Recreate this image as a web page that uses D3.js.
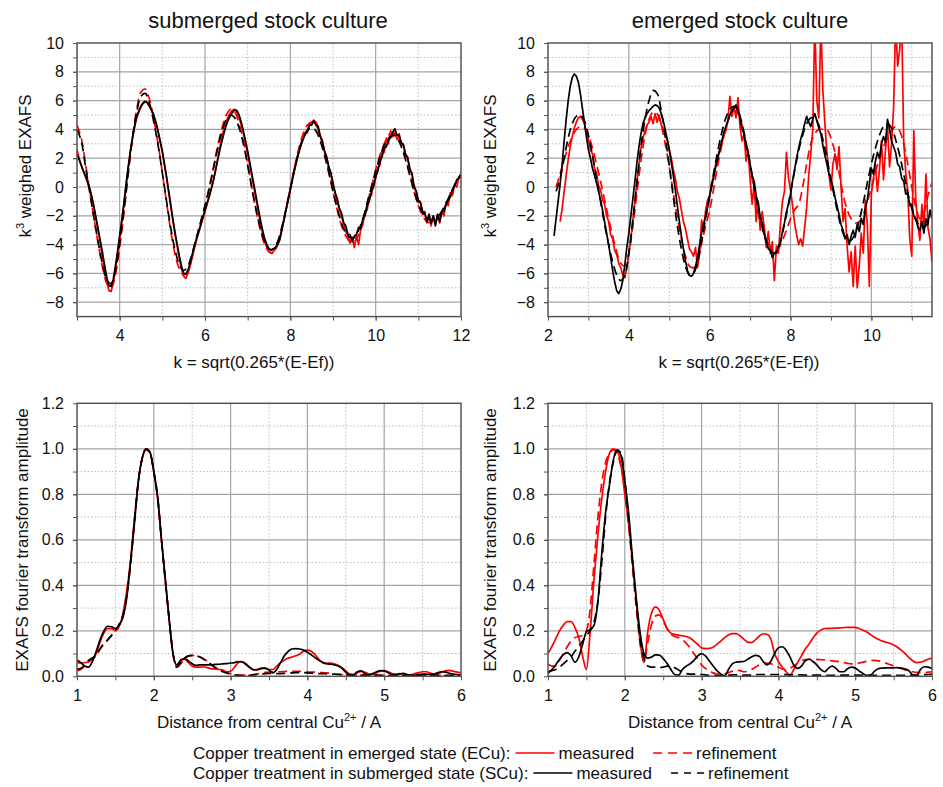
<!DOCTYPE html>
<html>
<head>
<meta charset="utf-8">
<script src="https://cdn.jsdelivr.net/npm/d3@7"></script>
<style>
  body { margin: 0; background: #fff; }
  svg { display: block; font-family: "Liberation Sans", Arial, sans-serif; }
</style>
</head>
<body>
<svg id="fig" width="943" height="787"></svg>
<script>
// ---------------------------------------------------------------
// k-space EXAFS (k^3 weighted), sampled on regular k grids
// ---------------------------------------------------------------
const kStepMeasured = 0.05;
const kStepRefined = 0.1;

// submerged stock culture, k = 3.00 ... 12.00
const subKStart = 3.0;
const subScuMeasured = [
  2.3, 1.9, 1.5, 1.1, 0.75, 0.35, -0.1, -0.7, -1.4, -2.2, -3.0, -3.8, -4.6, -5.5, -6.3, -6.85, -6.9, -6.4, -5.5, -4.5,
  -3.4, -2.3, -1.1, 0.2, 1.4, 2.5, 3.4, 4.2, 4.9, 5.3, 5.65, 5.85, 5.95, 5.85, 5.6, 5.3, 5.0, 4.5, 3.9, 3.2,
  2.5, 1.6, 0.7, -0.3, -1.3, -2.3, -3.2, -4.0, -4.8, -5.5, -6.0, -6.05, -5.8, -5.3, -4.7, -4.1, -3.6, -3.1, -2.6, -2.1,
  -1.6, -1.1, -0.6, -0.1, 0.5, 1.2, 1.9, 2.6, 3.2, 3.8, 4.3, 4.7, 5.0, 5.2, 5.35, 5.3, 5.0, 4.5, 3.9, 3.2,
  2.5, 1.7, 0.9, 0.1, -0.7, -1.5, -2.3, -3.0, -3.6, -4.0, -4.3, -4.4, -4.3, -4.2, -4.0, -3.7, -3.0, -2.3, -1.6, -0.9,
  -0.2, 0.5, 1.2, 1.8, 2.4, 2.9, 3.3, 3.7, 3.8, 4.3, 4.3, 4.6, 4.3, 4.2, 3.5, 3.2, 2.5, 2.1, 1.4, 1.0,
  0.3, -0.4, -0.8, -1.5, -1.8, -2.5, -2.7, -3.3, -3.3, -3.8, -3.4, -3.3, -2.8, -2.9, -2.2, -2.0, -1.3, -1.0, -0.3, 0.0,
  0.7, 1.1, 1.8, 2.1, 2.7, 2.8, 3.3, 3.4, 3.8, 4.05, 3.6, 3.6, 3.1, 2.9, 2.3, 2.0, 1.3, 0.9, 0.1, -0.3,
  -0.9, -1.1, -1.7, -1.8, -2.4, -1.9, -2.5, -2.0, -2.7, -1.9, -2.4, -1.7, -1.7, -1.2, -0.9, -0.7, -0.2, 0.1, 0.5, 0.6,
  0.9
];
const subEcuMeasured = [
  2.6, 2.0, 1.5, 1.1, 0.7, 0.3, -0.2, -0.8, -1.5, -2.3, -3.1, -4.0, -4.9, -5.8, -6.6, -7.2, -7.25, -6.7, -5.7, -4.6,
  -3.5, -2.4, -1.2, 0.1, 1.3, 2.4, 3.4, 4.2, 4.8, 5.2, 5.55, 5.8, 5.9, 5.85, 5.6, 5.3, 4.9, 4.4, 3.8, 3.1,
  2.4, 1.5, 0.6, -0.4, -1.4, -2.4, -3.3, -4.2, -5.0, -5.7, -6.2, -6.35, -6.0, -5.5, -4.9, -4.3, -3.7, -3.2, -2.7, -2.2,
  -1.7, -1.2, -0.7, -0.1, 0.5, 1.2, 2.0, 2.8, 3.5, 4.1, 4.6, 4.9, 5.2, 5.35, 5.4, 5.2, 4.8, 4.3, 3.7, 3.0,
  2.3, 1.5, 0.7, -0.1, -0.9, -1.7, -2.5, -3.2, -3.8, -4.2, -4.5, -4.6, -4.5, -4.3, -4.0, -3.6, -2.9, -2.2, -1.5, -0.8,
  -0.1, 0.6, 1.3, 1.9, 2.5, 3.0, 3.4, 3.8, 4.0, 4.3, 4.5, 4.65, 4.5, 4.2, 3.6, 3.2, 2.5, 2.1, 1.4, 0.9,
  0.1, -0.4, -1.1, -1.5, -2.1, -2.5, -3.1, -3.4, -3.9, -3.5, -4.2, -3.4, -4.0, -2.9, -2.6, -1.8, -1.6, -0.7, -0.6, 0.3,
  0.6, 1.4, 1.5, 2.5, 2.4, 3.4, 3.0, 3.9, 3.5, 3.8, 3.3, 3.7, 2.9, 3.0, 2.2, 2.1, 1.1, 1.0, -0.1, -0.3,
  -1.1, -1.0, -1.9, -1.7, -2.5, -1.9, -2.7, -2.0, -2.6, -1.9, -2.5, -1.7, -2.0, -1.1, -1.3, -0.4, -0.6, 0.2, 0.0, 0.7,
  0.6
];
const subScuRefined = [
  4.0, 3.2, 1.4, -0.4, -2.2, -3.9, -5.4, -6.5, -6.7, -5.8,
  -3.9, -1.6, 1.0, 3.4, 5.2, 6.3, 6.5, 5.8, 4.5, 2.9,
  1.0, -1.0, -2.9, -4.4, -5.4, -5.8, -5.5, -4.6, -3.5, -2.4,
  -1.3, -0.1, 1.3, 2.7, 3.9, 4.7, 5.0, 4.8, 4.1, 3.0,
  1.5, -0.1, -1.6, -2.9, -3.8, -4.3, -4.3, -3.8, -2.8, -1.5,
  -0.1, 1.3, 2.5, 3.4, 3.9, 4.1, 3.9, 3.2, 2.2, 1.0,
  -0.3, -1.5, -2.5, -3.2, -3.5, -3.5, -3.0, -2.2, -1.1, 0.0,
  1.1, 2.1, 2.9, 3.4, 3.6, 3.4, 2.8, 1.9, 0.8, -0.3,
  -1.2, -1.8, -2.2, -2.3, -2.2, -1.9, -1.4, -0.8, -0.2, 0.4,
  0.9
];
const subEcuRefined = [
  4.3, 3.4, 1.6, -0.3, -2.2, -4.0, -5.6, -6.7, -7.0, -6.1,
  -4.2, -1.8, 0.9, 3.4, 5.4, 6.6, 6.8, 6.1, 4.7, 3.0,
  1.0, -1.1, -3.1, -4.7, -5.7, -6.1, -5.8, -4.8, -3.6, -2.5,
  -1.3, 0.0, 1.4, 2.9, 4.1, 5.0, 5.4, 5.2, 4.4, 3.2,
  1.6, -0.1, -1.7, -3.0, -4.0, -4.5, -4.6, -4.0, -3.0, -1.6,
  -0.1, 1.4, 2.7, 3.7, 4.3, 4.5, 4.3, 3.5, 2.4, 1.1,
  -0.3, -1.6, -2.7, -3.4, -3.8, -3.8, -3.3, -2.4, -1.2, 0.0,
  1.2, 2.2, 3.0, 3.6, 3.8, 3.6, 3.0, 2.0, 0.9, -0.3,
  -1.3, -2.0, -2.4, -2.5, -2.4, -2.0, -1.5, -0.9, -0.2, 0.4,
  0.8
];

// emerged stock culture
const emeScuKStart = 2.15;   // k = 2.15 ... 11.50
const emeScuMeasured = [
  -3.4, -2.2, -1.0, 0.2, 1.6, 3.2, 4.7, 6.0, 7.0, 7.6, 7.85, 7.7, 7.3, 6.5, 5.5, 4.5, 3.5,
  2.6, 2.0, 1.3, 0.8, 0.3, -0.3, -0.9, -1.6, -2.4, -3.2, -4.0, -4.9, -5.8, -6.6, -7.2, -7.4, -7.1, -6.5, -5.4, -4.2,
  -3.2, -2.0, -0.8, 0.4, 1.7, 2.8, 3.7, 4.4, 4.8, 5.1, 5.3, 5.45, 5.6, 5.7, 5.65, 5.5, 5.1, 4.6, 4.0, 3.3,
  2.6, 1.7, 0.8, -0.2, -1.3, -2.4, -3.4, -4.3, -5.1, -5.8, -6.15, -6.2, -6.0, -5.5, -4.9, -4.0, -3.2, -2.6, -2.0, -1.4,
  -0.6, 0.0, 0.7, 1.4, 2.0, 2.6, 3.2, 3.8, 4.2, 4.6, 5.0, 5.3, 5.5, 5.7, 5.3, 4.8, 4.0, 3.7, 2.8, 2.4,
  1.6, 0.8, 0.4, -0.6, -1.1, -2.1, -2.5, -3.3, -3.7, -4.3, -4.4, -4.9, -4.6, -4.6, -4.1, -3.9, -3.1, -2.5, -1.7, -1.2,
  -0.5, 0.4, 1.2, 2.0, 2.7, 3.3, 3.8, 4.4, 4.9, 4.5, 4.2, 4.7, 5.1, 4.6, 4.1, 3.7, 2.9, 2.2, 1.6, 0.9,
  0.5, 0.0, -0.7, -1.3, -1.9, -2.6, -3.0, -3.6, -3.3, -4.0, -3.4, -3.0, -3.5, -2.6, -3.1, -2.2, -2.6, -1.5, -0.9, 0.2,
  1.3, 0.9, 1.8, 2.4, 2.0, 3.0, 3.5, 3.1, 4.7, 4.0, 3.2, 2.8, 2.4, 1.6, 1.4, 0.6, 0.4, -0.5, -0.4, -1.3,
  -1.2, -2.0, -2.2, -2.8, -3.0, -2.4, -3.2, -2.2, -2.6, -1.6, -2.2
];
const emeEcuKStart = 2.30;   // k = 2.30 ... 11.50
const emeEcuMeasured = [
  -2.4, -1.5, -0.3, 0.8, 1.9, 2.8, 3.5, 4.1, 4.5, 4.8, 4.9, 4.7, 4.4, 3.8,
  3.3, 2.6, 2.3, 1.3, 1.0, 0.1, -0.2, -0.9, -1.2, -2.0, -2.4, -3.3, -3.6, -4.4, -4.7, -5.3, -5.6, -6.1, -6.3, -5.6,
  -4.6, -3.6, -2.3, -1.0, 0.4, 1.6, 2.7, 3.4, 3.9, 4.3, 4.5, 4.9, 4.4, 5.1, 4.5, 5.0, 4.3, 4.1, 3.6, 3.3,
  2.6, 2.0, 1.2, 0.6, -0.3, -0.8, -1.6, -2.4, -2.9, -3.6, -4.3, -4.5, -4.8, -4.2, -5.6, -4.6, -2.3, -3.0, -1.6, -0.9,
  -0.6, 0.3, 0.8, 1.6, 2.1, 2.6, 3.0, 3.6, 3.9, 4.6, 6.3, 4.9, 5.6, 4.8, 6.2, 4.2, 3.2, 3.7, 1.8, 2.6,
  0.5, -1.2, 0.2, -2.4, -1.0, -3.0, -1.7, -2.8, -4.2, -3.1, -4.6, -3.8, -6.5, -4.1, -4.6, -2.6, -1.0, -0.3, 2.4, 0.6,
  -0.2, -1.3, -2.5, -3.3, -4.0, -3.6, -4.1, -2.8, -1.4, 0.8, 2.3, 4.0, 11.5, 6.0, 4.8, 11.5, 6.7, 4.4, 2.4, 0.9,
  -0.2, 1.6, 2.3, 1.2, 2.8, 0.0, -2.4, -1.5, -4.1, -5.9, -4.5, -6.9, -4.1, -7.0, -5.5, -3.2, -4.6, -0.9, -2.6, -6.9,
  -0.5, 0.6, 1.5, -0.3, 1.2, 3.2, 0.5, 2.6, 4.2, 1.4, 3.0, 5.5, 11.5, 8.4, 9.5, 11.5, 3.2, 1.0, -0.3, -3.6,
  -4.8, 3.9, -1.0, -2.6, -3.7, -1.2, -2.9, 0.9, -2.8, -3.6, -5.2
];
const emeRefinedKStart = 2.2;  // k = 2.2 ... 11.5
const emeScuRefined = [
  -0.3, 0.6, 2.0, 3.4, 4.4, 4.9, 5.0, 4.6,
  3.6, 2.2, 0.6, -1.0, -2.6, -4.0, -5.2, -6.1, -6.5, -6.1,
  -4.6, -2.3, 0.3, 2.8, 4.7, 6.0, 6.7, 6.5, 5.3, 3.5,
  1.5, -0.7, -2.7, -4.3, -5.5, -6.1, -6.0, -5.2, -3.8, -2.2,
  -0.6, 1.0, 2.5, 3.8, 4.8, 5.4, 5.6, 5.3, 4.4, 3.1,
  1.6, 0.0, -1.5, -2.8, -3.8, -4.4, -4.6, -4.2, -3.2, -1.9,
  -0.4, 1.1, 2.5, 3.6, 4.4, 4.8, 4.8, 4.3, 3.3, 2.0,
  0.5, -0.9, -2.2, -3.2, -3.7, -3.7, -3.2, -2.3, -1.1, 0.3,
  1.6, 2.7, 3.6, 4.2, 4.4, 4.1, 3.3, 2.2, 0.9, -0.4,
  -1.5, -2.3, -2.7, -2.8, -2.5, -2.0
];
const emeEcuRefined = [
  0.0, 0.9, 1.9, 2.8, 3.5, 4.0, 4.2, 4.1,
  3.6, 2.7, 1.6, 0.4, -0.9, -2.2, -3.4, -4.5, -5.3, -5.5,
  -4.6, -2.7, -0.4, 1.8, 3.6, 4.7, 5.2, 5.1, 4.3, 3.0,
  1.4, -0.4, -2.1, -3.6, -4.8, -5.5, -5.6, -5.0, -3.9, -2.7,
  -1.6, -0.1, 1.5, 2.9, 4.1, 4.9, 5.3, 5.1, 4.3, 3.0,
  1.4, -0.3, -1.8, -2.9, -3.6, -4.2, -4.5, -4.3, -3.7, -3.0,
  -2.2, -1.6, -1.2, 0.0, 1.6, 3.0, 3.7, 4.0, 4.0, 4.0,
  3.4, 2.4, 1.0, -0.5, -1.6, -2.2, -2.5, -2.4, -1.9, -1.0,
  -0.1, 1.0, 2.0, 2.8, 3.4, 3.9, 4.2, 3.9, 3.0, 1.6,
  0.0, -1.4, -2.2, -1.8, -0.6, 0.3
];

// ---------------------------------------------------------------
// Fourier transform amplitude, R = 1.00 ... 6.00 (step 0.05)
// ---------------------------------------------------------------
const rStart = 1.0;
const rStep = 0.05;

const ftSubScuMeasured = [
  0.072, 0.06, 0.045, 0.04, 0.065, 0.11, 0.16, 0.2, 0.22, 0.218, 0.21, 0.225, 0.26, 0.35, 0.51, 0.68, 0.86, 0.96, 1.0, 0.985,
  0.9, 0.79, 0.6, 0.43, 0.25, 0.1, 0.05, 0.072, 0.078, 0.068, 0.055, 0.048, 0.05, 0.05, 0.05, 0.05, 0.052, 0.053, 0.055, 0.056,
  0.058, 0.06, 0.065, 0.063, 0.052, 0.038, 0.028, 0.03, 0.035, 0.035, 0.028, 0.015, 0.03, 0.06, 0.09, 0.11, 0.12, 0.122, 0.12, 0.115,
  0.106, 0.095, 0.082, 0.07, 0.06, 0.055, 0.053, 0.05, 0.045, 0.035, 0.018, 0.007, 0.008, 0.02, 0.024, 0.012, 0.006, 0.012, 0.02, 0.025,
  0.024, 0.016, 0.008, 0.006, 0.01, 0.013, 0.008, 0.004, 0.004, 0.008, 0.01, 0.01, 0.008, 0.01, 0.016, 0.02, 0.018, 0.013, 0.01, 0.007,
  0.005
];
const ftSubEcuMeasured = [
  0.06, 0.058, 0.06, 0.063, 0.075, 0.1, 0.15, 0.19, 0.21, 0.21, 0.2, 0.22, 0.28, 0.38, 0.52, 0.7, 0.86, 0.96, 0.995, 0.985,
  0.9, 0.78, 0.6, 0.42, 0.25, 0.1, 0.05, 0.065, 0.075, 0.06, 0.045, 0.04, 0.04, 0.042, 0.038, 0.033, 0.032, 0.03, 0.027, 0.02,
  0.022, 0.04, 0.06, 0.065, 0.055, 0.04, 0.03, 0.028, 0.035, 0.037, 0.03, 0.03, 0.045, 0.06, 0.072, 0.08, 0.085, 0.09, 0.098, 0.11,
  0.115, 0.11, 0.095, 0.075, 0.062, 0.057, 0.058, 0.055, 0.048, 0.038, 0.024, 0.01, 0.006, 0.015, 0.022, 0.018, 0.01, 0.008, 0.015, 0.022,
  0.025, 0.02, 0.012, 0.01, 0.012, 0.01, 0.006, 0.007, 0.012, 0.016, 0.02, 0.02, 0.014, 0.01, 0.012, 0.018, 0.024, 0.026, 0.022, 0.018,
  0.015
];
const ftSubScuRefined = [
  0.03, 0.035, 0.05, 0.07, 0.08, 0.09, 0.12, 0.145, 0.16, 0.18, 0.2, 0.23, 0.27, 0.36, 0.5, 0.69, 0.86, 0.96, 1.0, 0.985,
  0.9, 0.79, 0.6, 0.42, 0.25, 0.1, 0.04, 0.06, 0.08, 0.09, 0.092, 0.09, 0.085, 0.075, 0.065, 0.05, 0.037, 0.028, 0.02, 0.014,
  0.01, 0.006, 0.004, 0.003, 0.003, 0.004, 0.006, 0.008, 0.01, 0.012, 0.013, 0.013, 0.012, 0.012, 0.013, 0.014, 0.015, 0.016, 0.016, 0.016,
  0.015, 0.014, 0.013, 0.012, 0.012, 0.011, 0.01, 0.009, 0.008, 0.007, 0.006, 0.005, 0.004, 0.004, 0.004, 0.005, 0.006, 0.006, 0.005, 0.004,
  0.003, 0.003, 0.004, 0.005, 0.005, 0.004, 0.003, 0.003, 0.004, 0.004, 0.003, 0.003, 0.003, 0.004, 0.004, 0.003, 0.003, 0.003, 0.003, 0.003,
  0.003
];
const ftSubEcuRefined = [
  0.025, 0.03, 0.045, 0.065, 0.08, 0.095, 0.12, 0.14, 0.16, 0.18, 0.2, 0.225, 0.27, 0.37, 0.51, 0.69, 0.86, 0.96, 0.995, 0.985,
  0.9, 0.78, 0.6, 0.42, 0.25, 0.1, 0.04, 0.055, 0.075, 0.088, 0.092, 0.09, 0.085, 0.076, 0.066, 0.052, 0.04, 0.03, 0.022, 0.016,
  0.012, 0.008, 0.006, 0.005, 0.005, 0.006, 0.008, 0.011, 0.014, 0.017, 0.019, 0.02, 0.02, 0.02, 0.021, 0.022, 0.022, 0.022, 0.022, 0.021,
  0.02, 0.019, 0.018, 0.017, 0.016, 0.015, 0.013, 0.011, 0.009, 0.007, 0.006, 0.005, 0.005, 0.005, 0.006, 0.007, 0.007, 0.006, 0.005, 0.004,
  0.004, 0.004, 0.005, 0.006, 0.006, 0.005, 0.004, 0.004, 0.005, 0.005, 0.004, 0.004, 0.004, 0.005, 0.005, 0.004, 0.004, 0.004, 0.004, 0.004,
  0.004
];
const ftEmeScuMeasured = [
  0.013, 0.03, 0.05, 0.075, 0.095, 0.104, 0.09, 0.062, 0.085, 0.14, 0.196, 0.205, 0.225, 0.33, 0.54, 0.72, 0.84, 0.95, 0.995, 0.97,
  0.86, 0.716, 0.52, 0.34, 0.19, 0.1, 0.08, 0.085, 0.094, 0.093, 0.078, 0.057, 0.03, 0.008, 0.005, 0.03, 0.045, 0.055, 0.07, 0.09,
  0.1, 0.09, 0.068, 0.045, 0.025, 0.01, 0.002, 0.03, 0.055, 0.062, 0.064, 0.065, 0.075, 0.085, 0.092, 0.088, 0.066, 0.05, 0.065, 0.1,
  0.125, 0.13, 0.115, 0.085, 0.05, 0.035, 0.045, 0.068, 0.075, 0.065, 0.05, 0.03, 0.02, 0.035, 0.045, 0.035, 0.02, 0.02, 0.033, 0.04,
  0.036, 0.024, 0.012, 0.004, 0.005, 0.022, 0.033, 0.036, 0.037, 0.037, 0.037, 0.038, 0.036, 0.032, 0.024, 0.006, 0.004, 0.03, 0.042, 0.04,
  0.035
];
const ftEmeEcuMeasured = [
  0.1, 0.13, 0.165, 0.2, 0.225, 0.24, 0.24, 0.215, 0.17, 0.09, 0.03, 0.2, 0.43, 0.62, 0.78, 0.9, 0.98, 1.0, 0.99, 0.93,
  0.8, 0.67, 0.5, 0.33, 0.15, 0.06, 0.2, 0.28, 0.305, 0.29, 0.25, 0.21, 0.19, 0.184, 0.181, 0.178, 0.175, 0.168, 0.155, 0.14,
  0.125, 0.122, 0.123, 0.128, 0.14, 0.155, 0.17, 0.182, 0.188, 0.188, 0.178, 0.163, 0.15, 0.148, 0.16, 0.176, 0.187, 0.185, 0.165, 0.1,
  0.065, 0.04, 0.02, 0.003, 0.03, 0.06, 0.09, 0.12, 0.142, 0.168, 0.19, 0.203, 0.21, 0.211, 0.211, 0.212, 0.213, 0.214, 0.215, 0.215,
  0.215, 0.21, 0.203, 0.195, 0.183, 0.172, 0.163, 0.155, 0.15, 0.145, 0.138, 0.128, 0.115, 0.1, 0.082, 0.068, 0.06, 0.062, 0.068, 0.075,
  0.08
];
const ftEmeScuRefined = [
  0.02, 0.025, 0.03, 0.04, 0.055, 0.07, 0.085, 0.11, 0.13, 0.155, 0.18, 0.2, 0.24, 0.33, 0.5, 0.7, 0.85, 0.94, 0.99, 0.985,
  0.86, 0.69, 0.5, 0.32, 0.16, 0.08, 0.045, 0.04, 0.04, 0.038, 0.04, 0.045, 0.045, 0.038, 0.028, 0.018, 0.012, 0.01, 0.01, 0.01,
  0.008, 0.006, 0.004, 0.003, 0.003, 0.003, 0.004, 0.005, 0.006, 0.006, 0.006, 0.005, 0.005, 0.006, 0.007, 0.008, 0.008, 0.008, 0.008, 0.008,
  0.008, 0.008, 0.007, 0.007, 0.006, 0.006, 0.006, 0.005, 0.005, 0.005, 0.005, 0.005, 0.004, 0.004, 0.004, 0.005, 0.005, 0.005, 0.005, 0.005,
  0.005, 0.005, 0.004, 0.004, 0.004, 0.004, 0.004, 0.004, 0.004, 0.004, 0.004, 0.004, 0.004, 0.004, 0.004, 0.004, 0.005, 0.006, 0.007, 0.008,
  0.01
];
const ftEmeEcuRefined = [
  0.055, 0.045, 0.045, 0.07, 0.1, 0.13, 0.155, 0.17, 0.175, 0.18, 0.2, 0.3, 0.5, 0.7, 0.85, 0.94, 0.98, 0.995, 0.98, 0.92,
  0.82, 0.66, 0.48, 0.3, 0.14, 0.065, 0.15, 0.23, 0.265, 0.27, 0.245, 0.21, 0.185, 0.175, 0.17, 0.16, 0.145, 0.125, 0.1, 0.075,
  0.05, 0.035, 0.025, 0.015, 0.01, 0.008, 0.01, 0.016, 0.022, 0.026, 0.025, 0.02, 0.022, 0.03, 0.04, 0.05, 0.055, 0.058, 0.055, 0.048,
  0.04, 0.032, 0.03, 0.035, 0.045, 0.058, 0.068, 0.073, 0.075, 0.075, 0.074, 0.073, 0.072, 0.07, 0.068, 0.066, 0.064, 0.06, 0.057, 0.055,
  0.055, 0.058, 0.062, 0.066, 0.069, 0.07, 0.068, 0.064, 0.058, 0.052, 0.046, 0.04, 0.034, 0.028, 0.024, 0.02, 0.017, 0.016, 0.016, 0.018,
  0.02
];

// ---------------------------------------------------------------
// Axis ticks and texts
// ---------------------------------------------------------------
const kTickLabelsSub = [4, 6, 8, 10, 12];
const kTickLabelsEme = [2, 4, 6, 8, 10];
const kMajorGrid = [4, 6, 8, 10];
const kMinorGrid = [3, 5, 7, 9, 11];
const chiTickLabels = [-8, -6, -4, -2, 0, 2, 4, 6, 8, 10];
const chiMajorGrid = [-8, -6, -4, -2, 0, 2, 4, 6, 8];
const chiMinorGrid = [-7, -5, -3, -1, 1, 3, 5, 7, 9];
const rTickLabels = [1, 2, 3, 4, 5, 6];
const rMajorGrid = [2, 3, 4, 5];
const rMinorGrid = [1.5, 2.5, 3.5, 4.5, 5.5];
const ampTickLabels = [0, 0.2, 0.4, 0.6, 0.8, 1.0, 1.2];
const ampMajorGrid = [0.2, 0.4, 0.6, 0.8, 1.0];
const ampMinorGrid = [0.1, 0.3, 0.5, 0.7, 0.9, 1.1];

const panelTitles = ["submerged stock culture", "emerged stock culture"];
const kAxisTitle = "k = sqrt(0.265*(E-Ef))";
const legendRows = [
  { label: "Copper treatment in emerged state (ECu):", color: "#ff0000", dash: "9,6" },
  { label: "Copper treatment in submerged state (SCu):", color: "#000000", dash: "7,6" }
];

// ---------------------------------------------------------------
const RED = "#ff0000";
const BLACK = "#000000";
const DASH = "9,5";
const svg = d3.select("#fig");
const defs = svg.append("defs");

function toPoints(start, step, values) {
  return values.map((v, i) => [start + i * step, v]);
}

function drawPanel(p, idx) {
  const x = d3.scaleLinear().domain(p.xDomain).range([p.left, p.right]);
  const y = d3.scaleLinear().domain(p.yDomain).range([p.bottom, p.top]);
  const g = svg.append("g");

  // grid lines
  const grid = g.append("g");
  grid.selectAll("line.vminor").data(p.xMinor).join("line")
    .attr("x1", d => x(d)).attr("x2", d => x(d)).attr("y1", p.top).attr("y2", p.bottom)
    .attr("stroke", "#bdbdbd").attr("stroke-width", 1).attr("stroke-dasharray", "1.5,2");
  grid.selectAll("line.hminor").data(p.yMinor).join("line")
    .attr("y1", d => y(d)).attr("y2", d => y(d)).attr("x1", p.left).attr("x2", p.right)
    .attr("stroke", "#bdbdbd").attr("stroke-width", 1).attr("stroke-dasharray", "1.5,2");
  grid.selectAll("line.vmajor").data(p.xMajor).join("line")
    .attr("x1", d => x(d)).attr("x2", d => x(d)).attr("y1", p.top).attr("y2", p.bottom)
    .attr("stroke", "#a4a4a4").attr("stroke-width", 1.2);
  grid.selectAll("line.hmajor").data(p.yMajor).join("line")
    .attr("y1", d => y(d)).attr("y2", d => y(d)).attr("x1", p.left).attr("x2", p.right)
    .attr("stroke", "#a4a4a4").attr("stroke-width", 1.2);

  // clipped data lines
  const clipId = "clip" + idx;
  defs.append("clipPath").attr("id", clipId).append("rect")
    .attr("x", p.left).attr("y", p.top).attr("width", p.right - p.left).attr("height", p.bottom - p.top);
  const plot = g.append("g").attr("clip-path", `url(#${clipId})`);
  p.series.forEach(s => {
    const line = d3.line().x(d => x(d[0])).y(d => y(d[1])).curve(s.curve || d3.curveLinear);
    plot.append("path").datum(s.points)
      .attr("d", line).attr("fill", "none")
      .attr("stroke", s.color).attr("stroke-width", 1.7)
      .attr("stroke-linejoin", "round")
      .attr("stroke-dasharray", s.dashed ? DASH : null);
  });

  // frame
  g.append("rect").attr("x", p.left).attr("y", p.top)
    .attr("width", p.right - p.left).attr("height", p.bottom - p.top)
    .attr("fill", "none").attr("stroke", "#555").attr("stroke-width", 1.5);

  // axes
  const styleAxis = sel => {
    sel.select(".domain").remove();
    sel.selectAll(".tick line").attr("stroke", "#555");
    sel.selectAll(".tick text").attr("fill", "#111").style("font-size", "16px")
      .style("font-family", "'Liberation Sans', Arial, sans-serif");
  };
  g.append("g").attr("transform", `translate(0,${p.bottom})`)
    .call(d3.axisBottom(x).tickValues(p.xMinor.concat(p.xMajor)).tickSize(4).tickFormat(""))
    .call(styleAxis);
  g.append("g").attr("transform", `translate(0,${p.bottom})`)
    .call(d3.axisBottom(x).tickValues(p.xLabels).tickSize(4).tickPadding(9).tickFormat(p.xFormat))
    .call(styleAxis);
  g.append("g").attr("transform", `translate(${p.left},0)`)
    .call(d3.axisLeft(y).tickValues(p.yMinor.concat(p.yMajor)).tickSize(4).tickFormat(""))
    .call(styleAxis);
  g.append("g").attr("transform", `translate(${p.left},0)`)
    .call(d3.axisLeft(y).tickValues(p.yLabels).tickSize(4).tickPadding(9).tickFormat(p.yFormat))
    .call(styleAxis);
}

const topY = [-9, 10];
const botY = [0, 1.2];
const panels = [
  {
    left: 77, right: 461, top: 43, bottom: 316.6, xDomain: [3, 12], yDomain: topY,
    xLabels: kTickLabelsSub, xMajor: kMajorGrid, xMinor: kMinorGrid,
    yLabels: chiTickLabels, yMajor: chiMajorGrid, yMinor: chiMinorGrid,
    xFormat: d3.format("d"), yFormat: d3.format("d"),
    series: [
      { points: toPoints(subKStart, kStepMeasured, subEcuMeasured), color: RED },
      { points: toPoints(subKStart, kStepRefined, subEcuRefined), color: RED, dashed: true, curve: d3.curveCatmullRom },
      { points: toPoints(subKStart, kStepMeasured, subScuMeasured), color: BLACK },
      { points: toPoints(subKStart, kStepRefined, subScuRefined), color: BLACK, dashed: true, curve: d3.curveCatmullRom }
    ]
  },
  {
    left: 548, right: 932, top: 43, bottom: 316.6, xDomain: [2, 11.5], yDomain: topY,
    xLabels: kTickLabelsEme, xMajor: kMajorGrid, xMinor: kMinorGrid,
    yLabels: chiTickLabels, yMajor: chiMajorGrid, yMinor: chiMinorGrid,
    xFormat: d3.format("d"), yFormat: d3.format("d"),
    series: [
      { points: toPoints(emeEcuKStart, kStepMeasured, emeEcuMeasured), color: RED },
      { points: toPoints(emeRefinedKStart, kStepRefined, emeEcuRefined), color: RED, dashed: true, curve: d3.curveCatmullRom },
      { points: toPoints(emeScuKStart, kStepMeasured, emeScuMeasured), color: BLACK },
      { points: toPoints(emeRefinedKStart, kStepRefined, emeScuRefined), color: BLACK, dashed: true, curve: d3.curveCatmullRom }
    ]
  },
  {
    left: 77, right: 461, top: 403.3, bottom: 676.3, xDomain: [1, 6], yDomain: botY,
    xLabels: rTickLabels, xMajor: rMajorGrid, xMinor: rMinorGrid,
    yLabels: ampTickLabels, yMajor: ampMajorGrid, yMinor: ampMinorGrid,
    xFormat: d3.format("d"), yFormat: d3.format(".1f"),
    series: [
      { points: toPoints(rStart, rStep, ftSubEcuMeasured), color: RED, curve: d3.curveMonotoneX },
      { points: toPoints(rStart, rStep, ftSubEcuRefined), color: RED, dashed: true, curve: d3.curveMonotoneX },
      { points: toPoints(rStart, rStep, ftSubScuMeasured), color: BLACK, curve: d3.curveMonotoneX },
      { points: toPoints(rStart, rStep, ftSubScuRefined), color: BLACK, dashed: true, curve: d3.curveMonotoneX }
    ]
  },
  {
    left: 548, right: 932, top: 403.3, bottom: 676.3, xDomain: [1, 6], yDomain: botY,
    xLabels: rTickLabels, xMajor: rMajorGrid, xMinor: rMinorGrid,
    yLabels: ampTickLabels, yMajor: ampMajorGrid, yMinor: ampMinorGrid,
    xFormat: d3.format("d"), yFormat: d3.format(".1f"),
    series: [
      { points: toPoints(rStart, rStep, ftEmeEcuMeasured), color: RED, curve: d3.curveMonotoneX },
      { points: toPoints(rStart, rStep, ftEmeEcuRefined), color: RED, dashed: true, curve: d3.curveMonotoneX },
      { points: toPoints(rStart, rStep, ftEmeScuMeasured), color: BLACK, curve: d3.curveMonotoneX },
      { points: toPoints(rStart, rStep, ftEmeScuRefined), color: BLACK, dashed: true, curve: d3.curveMonotoneX }
    ]
  }
];
panels.forEach(drawPanel);

// ---------------------------------------------------------------
// Titles and axis titles
// ---------------------------------------------------------------
const txt = (x, y, size) => svg.append("text").attr("x", x).attr("y", y)
  .attr("fill", "#111").style("font-size", size + "px").attr("text-anchor", "middle");

txt(268, 28, 22).text(panelTitles[0]);
txt(740, 28, 22).text(panelTitles[1]);

txt(254, 368, 17).text(kAxisTitle);
txt(739, 368, 17).text(kAxisTitle);

function distanceTitle(cx) {
  const t = txt(cx, 728, 17);
  t.append("tspan").text("Distance from central Cu");
  t.append("tspan").attr("dy", -7).style("font-size", "11px").text("2+");
  t.append("tspan").attr("dy", 7).text(" / A");
}
distanceTitle(269);
distanceTitle(740);

function chiTitle(cx, cy) {
  const t = svg.append("text").attr("transform", `translate(${cx},${cy}) rotate(-90)`)
    .attr("text-anchor", "middle").attr("dy", "0.35em").attr("fill", "#111").style("font-size", "17px");
  t.append("tspan").text("k");
  t.append("tspan").attr("dy", -7).style("font-size", "11px").text("3");
  t.append("tspan").attr("dy", 7).text(" weighed EXAFS");
}
chiTitle(25, 166);
chiTitle(490, 166);

function ftTitle(cx, cy) {
  svg.append("text").attr("transform", `translate(${cx},${cy}) rotate(-90)`)
    .attr("text-anchor", "middle").attr("dy", "0.35em").attr("fill", "#111").style("font-size", "17px")
    .text("EXAFS fourier transform amplitude");
}
ftTitle(22, 540);
ftTitle(490, 540);

// ---------------------------------------------------------------
// Legend: both rows start at the same left edge; sample lines and
// words follow the measured width of each row's label.
// ---------------------------------------------------------------
const legendLeft = 193;
const legendRowY = [753, 773];
legendRows.forEach((row, i) => {
  const y = legendRowY[i];
  const lg = svg.append("g").style("font-size", "17px").attr("fill", "#111");
  const label = lg.append("text").attr("x", legendLeft).attr("y", y).attr("dy", "0.35em").text(row.label);
  let cx = legendLeft + label.node().getComputedTextLength() + 5;
  lg.append("line").attr("x1", cx).attr("x2", cx + 39).attr("y1", y).attr("y2", y)
    .attr("stroke", row.color).attr("stroke-width", 1.7);
  cx += 43;
  const meas = lg.append("text").attr("x", cx).attr("y", y).attr("dy", "0.35em").text("measured");
  cx += meas.node().getComputedTextLength() + 19;
  const dashLen = i === 0 ? 39 : 33;
  lg.append("line").attr("x1", cx).attr("x2", cx + dashLen).attr("y1", y).attr("y2", y)
    .attr("stroke", row.color).attr("stroke-width", 1.7).attr("stroke-dasharray", row.dash);
  cx += dashLen + 4;
  lg.append("text").attr("x", cx).attr("y", y).attr("dy", "0.35em").text("refinement");
});
</script>
</body>
</html>
